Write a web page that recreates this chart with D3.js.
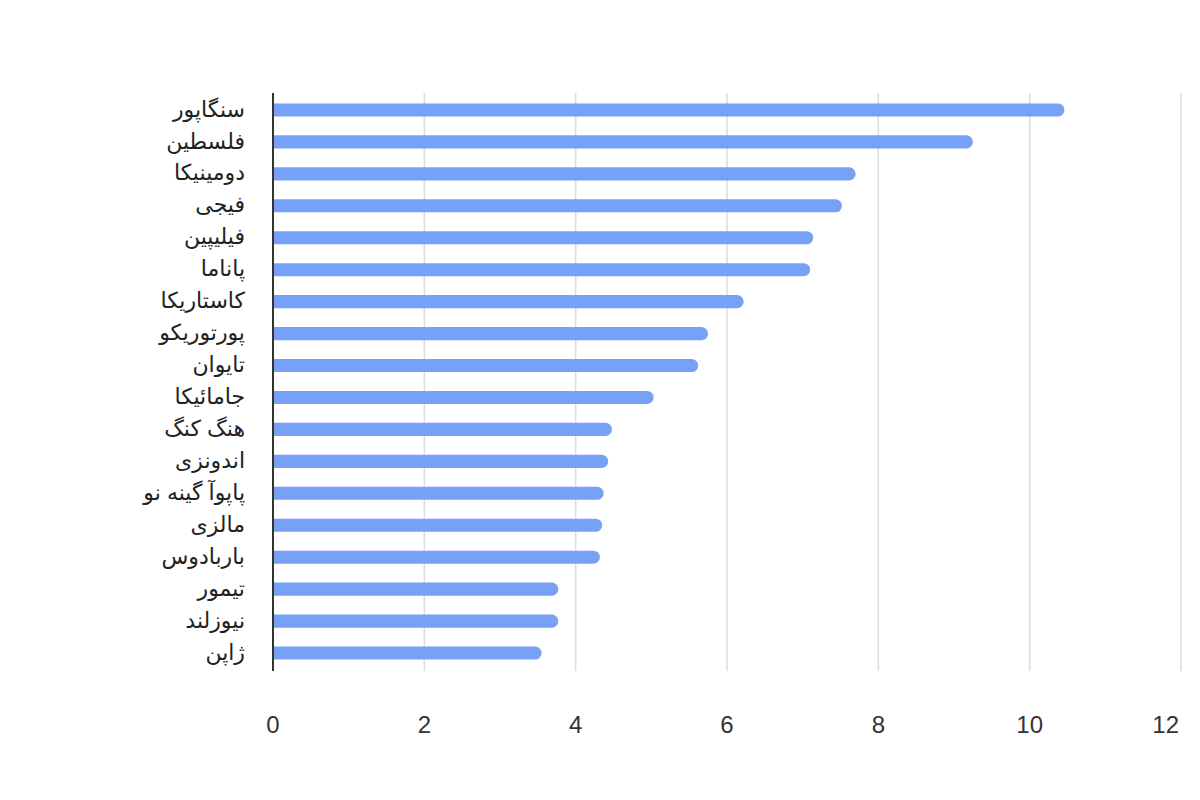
<!DOCTYPE html>
<html>
<head>
<meta charset="utf-8">
<script src="https://cdn.jsdelivr.net/npm/d3@7"></script>
<style>
  body{margin:0;background:#fff;}
  svg{display:block;font-family:"Liberation Sans",Arial,"DejaVu Sans",sans-serif;}
  .grid line{stroke:#dcdcdc;stroke-width:1.5;}
  .cat{font-size:22px;fill:#222;}
  .tick-lbl{font-size:24px;fill:#333;}
  .bar{fill:#77a1f6;}
</style>
</head>
<body>
<div id="chart"></div>
<script>
// values
const countries=['سنگاپور','فلسطین','دومینیکا','فیجی','فیلیپین','پاناما','کاستاریکا','پورتوریکو','تایوان','جامائیکا','هنگ کنگ','اندونزی','پاپوآ گینه نو','مالزی','باربادوس','تیمور','نیوزلند','ژاپن'];
const values=[10.46,9.25,7.70,7.52,7.14,7.10,6.22,5.75,5.62,5.03,4.48,4.43,4.37,4.35,4.32,3.77,3.77,3.55];
const xTicks=[0,2,4,6,8,10,12];

const W=1200,H=800;
const m={left:273,right:1181,top:94,bottom:669};

const svg=d3.select('#chart').append('svg').attr('width',W).attr('height',H);

const x=d3.scaleLinear().domain([0,12]).range([m.left,m.right]);
const y=d3.scaleBand().domain(countries).range([m.top,m.bottom]).paddingInner(0.59).paddingOuter(0.295);

// gridlines
svg.append('g').attr('class','grid').selectAll('line')
  .data(xTicks.filter(d=>d>0)).enter().append('line')
  .attr('x1',d=>x(d)).attr('x2',d=>x(d))
  .attr('y1',m.top-1).attr('y2',m.bottom+2);

// bars, rounded on the right end only
const r=6.5;
svg.append('g').selectAll('path')
  .data(countries.map((c,i)=>({c,v:values[i]}))).enter().append('path')
  .attr('class','bar')
  .attr('d',d=>{
    const x0=x(0),x1=x(d.v),y0=y(d.c),h=y.bandwidth(),rr=Math.min(r,h/2);
    return `M${x0},${y0}H${x1-rr}A${rr},${rr} 0 0 1 ${x1},${y0+rr}V${y0+h-rr}A${rr},${rr} 0 0 1 ${x1-rr},${y0+h}H${x0}Z`;
  });

// baseline axis
svg.append('line')
  .attr('x1',x(0)).attr('x2',x(0))
  .attr('y1',m.top-1).attr('y2',m.bottom+2)
  .attr('stroke','#333').attr('stroke-width',2);

// category labels
svg.append('g').selectAll('text')
  .data(countries).enter().append('text')
  .attr('class','cat')
  .attr('x',245)
  .attr('y',d=>y(d)+y.bandwidth()/2)
  .attr('dy','0.3em')
  .attr('text-anchor','end')
  .text(d=>d);

// x tick labels
svg.append('g').selectAll('text')
  .data(xTicks).enter().append('text')
  .attr('class','tick-lbl')
  .attr('x',d=>d===12?x(d)-2:x(d))
  .attr('y',733)
  .attr('text-anchor',d=>d===12?'end':'middle')
  .text(d=>d);
</script>
</body>
</html>
